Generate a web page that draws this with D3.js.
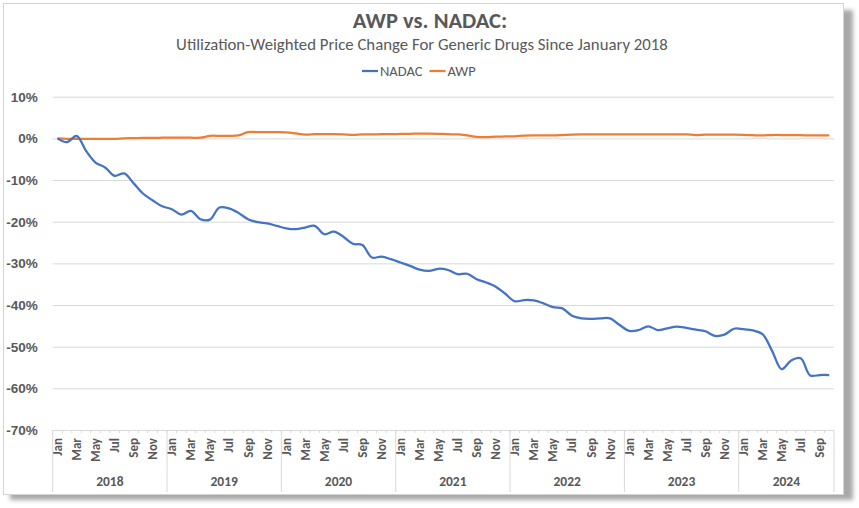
<!DOCTYPE html>
<html>
<head>
<meta charset="utf-8">
<script src="https://cdn.jsdelivr.net/npm/d3@7"></script>
<style>
  body { margin: 0; background: #fff; }
  svg { display: block; font-family: Carlito, "Liberation Sans Narrow", "Open Sans", sans-serif; }
</style>
</head>
<body>
<div id="chart"></div>
<script>
// monthly series, % change since Jan 2018 (Jan 2018 .. Oct 2024)
const years = [2018, 2019, 2020, 2021, 2022, 2023, 2024];
const monthNames = ['Jan', 'Feb', 'Mar', 'Apr', 'May', 'Jun', 'Jul', 'Aug', 'Sep', 'Oct', 'Nov', 'Dec'];
const yTicks = [10, 0, -10, -20, -30, -40, -50, -60, -70];

const nadac = [
  0, -0.9, 0.6, -3.0, -5.8, -7.0, -9.0, -8.4, -10.8, -13.3, -14.9, -16.3,
  -17.0, -18.3, -17.4, -19.4, -19.5, -16.6, -16.8, -17.9, -19.4, -20.1, -20.4, -21.0,
  -21.6, -21.8, -21.4, -21.0, -23.0, -22.4, -23.6, -25.3, -25.6, -28.6, -28.4, -29.0,
  -29.8, -30.6, -31.5, -31.8, -31.3, -31.6, -32.6, -32.5, -33.8, -34.6, -35.6, -37.3,
  -39.1, -38.8, -38.9, -39.6, -40.5, -40.8, -42.6, -43.2, -43.3, -43.2, -43.2, -44.8,
  -46.2, -46.0, -45.1, -46.0, -45.6, -45.2, -45.5, -45.9, -46.3, -47.4, -47.1, -45.7,
  -45.8, -46.1, -47.0, -51.0, -55.4, -53.3, -52.8, -56.9, -56.8, -56.8
];

const awp = [
  0, -0.1, -0.15, -0.1, -0.1, -0.1, -0.1, 0, 0.05, 0.1, 0.1, 0.15,
  0.2, 0.2, 0.15, 0.15, 0.6, 0.6, 0.6, 0.7, 1.5, 1.5, 1.5, 1.5,
  1.45, 1.2, 0.9, 1.0, 1.0, 1.0, 0.95, 0.85, 0.95, 0.95, 1.0, 1.0,
  1.05, 1.1, 1.15, 1.15, 1.1, 1.0, 0.95, 0.7, 0.35, 0.3, 0.4, 0.45,
  0.5, 0.65, 0.7, 0.7, 0.7, 0.8, 0.9, 0.95, 0.95, 0.95, 0.95, 0.95,
  0.95, 0.95, 0.95, 0.95, 0.95, 0.95, 0.95, 0.8, 0.9, 0.9, 0.9, 0.9,
  0.85, 0.75, 0.7, 0.8, 0.8, 0.75, 0.75, 0.7, 0.7, 0.7
];

const series = [
  { name: 'NADAC', values: nadac, color: '#4472C4' },
  { name: 'AWP', values: awp, color: '#ED7D31' }
];

const width = 859;
const height = 508;
const textColor = '#595959';
const gridColor = '#d9d9d9';

const months = nadac.map((d, i) => ({
  i,
  year: years[Math.floor(i / 12)],
  label: monthNames[i % 12]
}));

const svg = d3.select('#chart')
  .append('svg')
  .attr('width', width)
  .attr('height', height);

// card with shadow
const defs = svg.append('defs');
const blur = defs.append('filter').attr('id', 'shadow')
  .attr('x', '-5%').attr('y', '-5%').attr('width', '110%').attr('height', '110%');
blur.append('feGaussianBlur').attr('stdDeviation', 2);

svg.append('rect')
  .attr('x', 10).attr('y', 10).attr('width', 843).attr('height', 490)
  .attr('fill', '#a8a8a8')
  .attr('filter', 'url(#shadow)');
svg.append('rect')
  .attr('x', 3.5).attr('y', 3.5).attr('width', 840).attr('height', 491)
  .attr('fill', '#fff')
  .attr('stroke', '#d4d4d4');

const plot = { left: 52.7, right: 834, top: 96.7, bottom: 430 };

const x = d3.scaleBand()
  .domain(months.map(d => d.i))
  .range([plot.left, plot.right])
  .padding(0);

const y = d3.scaleLinear()
  .domain([-70, 10])
  .range([plot.bottom, plot.top]);

// gridlines
svg.append('g')
  .attr('class', 'gridlines')
  .attr('transform', `translate(${plot.left}, 0)`)
  .call(d3.axisLeft(y).tickValues(yTicks).tickFormat('').tickSize(-(plot.right - plot.left)))
  .call(g => g.select('.domain').remove())
  .call(g => g.selectAll('line').attr('stroke', gridColor).attr('stroke-width', 1));

// y labels
svg.append('g')
  .attr('transform', `translate(${plot.left}, 0)`)
  .call(d3.axisLeft(y).tickValues(yTicks).tickSize(0).tickPadding(15).tickFormat(d => d + '%'))
  .call(g => g.select('.domain').remove())
  .call(g => g.selectAll('text')
    .attr('fill', textColor)
    .attr('font-size', 13.5)
    .attr('font-weight', 'bold'));

// x axis: month ticks
const xAxis = svg.append('g').attr('transform', `translate(0, ${plot.bottom})`);

xAxis.selectAll('line.minor')
  .data(months.slice(1))
  .join('line')
  .attr('class', 'minor')
  .attr('x1', d => x(d.i)).attr('x2', d => x(d.i))
  .attr('y1', 0).attr('y2', 3)
  .attr('stroke', gridColor);

xAxis.selectAll('text.month')
  .data(months.filter(d => d.i % 2 === 0))
  .join('text')
  .attr('class', 'month')
  .attr('transform', d => `translate(${x(d.i) + x.bandwidth() / 2 + 4.5}, 8) rotate(-90)`)
  .attr('text-anchor', 'end')
  .attr('fill', textColor)
  .attr('font-size', 13)
  .attr('font-weight', 'bold')
  .text(d => d.label);

// year groups
const yearEdges = years.map((yr, k) => {
  const ms = months.filter(d => d.year === yr);
  return { yr, x0: x(ms[0].i), x1: x(ms[ms.length - 1].i) + x.bandwidth() };
});

xAxis.selectAll('line.year')
  .data([yearEdges[0].x0, ...yearEdges.map(d => d.x1)])
  .join('line')
  .attr('class', 'year')
  .attr('x1', d => d).attr('x2', d => d)
  .attr('y1', 0).attr('y2', 62)
  .attr('stroke', gridColor);

xAxis.selectAll('text.year')
  .data(yearEdges)
  .join('text')
  .attr('class', 'year')
  .attr('x', d => (d.x0 + d.x1) / 2)
  .attr('y', 56)
  .attr('text-anchor', 'middle')
  .attr('fill', textColor)
  .attr('font-size', 13.5)
  .attr('font-weight', 'bold')
  .text(d => d.yr);

// lines
const line = d3.line()
  .x((d, i) => x(i) + x.bandwidth() / 2)
  .y(d => y(d))
  .curve(d3.curveCatmullRom.alpha(0.5));

svg.append('g')
  .selectAll('path')
  .data(series.slice().reverse())
  .join('path')
  .attr('fill', 'none')
  .attr('stroke', d => d.color)
  .attr('stroke-width', 2.25)
  .attr('stroke-linejoin', 'round')
  .attr('d', d => line(d.values));

// titles
svg.append('text')
  .attr('x', 430).attr('y', 28)
  .attr('text-anchor', 'middle')
  .attr('fill', textColor)
  .attr('font-size', 22.5)
  .attr('font-weight', 'bold')
  .text('AWP vs. NADAC:');

svg.append('text')
  .attr('x', 422).attr('y', 50)
  .attr('text-anchor', 'middle')
  .attr('fill', textColor)
  .attr('font-size', 16.8)
  .text('Utilization-Weighted Price Change For Generic Drugs Since January 2018');

// legend
const legend = svg.append('g').attr('transform', 'translate(362, 71)');
let lx = 0;
series.forEach(s => {
  const item = legend.append('g').attr('transform', `translate(${lx}, 0)`);
  item.append('line')
    .attr('x1', 0).attr('x2', 16)
    .attr('stroke', s.color).attr('stroke-width', 2.25);
  const t = item.append('text')
    .attr('x', 18).attr('y', 5)
    .attr('fill', textColor)
    .attr('font-size', 14.5)
    .text(s.name);
  lx += 18 + t.node().getComputedTextLength() + 7;
});
</script>
</body>
</html>
